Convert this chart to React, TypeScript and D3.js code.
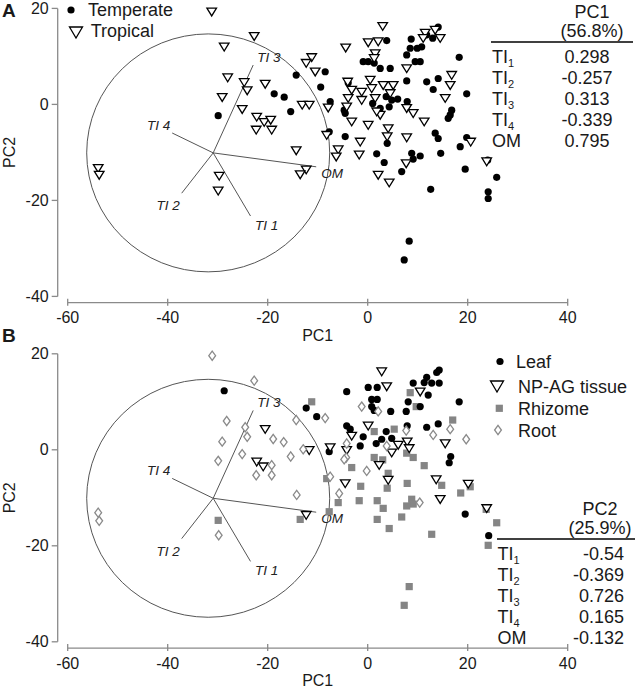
import React from "react";
import * as d3 from "d3";

// ---------------- DATA ----------------
const X_TICKS = [-60, -40, -20, 0, 20, 40];
const Y_TICKS = [-40, -20, 0, 20];

// Panel A: climate groups [PC1, PC2]
const A_TEMPERATE: [number, number][] = [
  [-14.3, 6.1], [-18.7, 2.2], [-16.7, 1.5], [-15.4, -1.5], [-29.9, -2.35], [-9.4, 3.6], [-8.5, 6.8],
  [14.1, 16.1], [13, 13.8], [11.8, 14.5], [8.7, 13.6], [8.5, 11.7], [9.9, 11.7], [10.8, 12.0], [7.8, 10.3],
  [9.5, 8.9], [10.5, 8.9], [3.8, 13.3], [-0.9, 8.9], [0.1, 8.9], [1.3, 8.6], [2.5, 7.5], [4.5, 7.5],
  [18.3, 9.8], [-7.5, 0.6], [-3.9, 4.5], [7.8, 4.9], [11.8, 4.7], [13.1, 3.1], [14.1, 5.4], [19.8, 2.2],
  [3.7, 1.6], [4.8, 0.9], [6, 1.1], [7.9, 0.6], [-4.7, -1.2], [-4.5, -1.85], [1, 0.2], [2.5, -0.8],
  [4.3, -0.5], [16.8, -1.2], [16.5, -2.2], [16.1, -2.9], [-7.7, -5.7], [-4.5, -6.7], [13.5, -6],
  [14.1, -7.1], [3.9, -8.1], [19.8, -6.9], [18.5, -8.8], [14.6, -10.2], [1.8, -10.3], [3.3, -12.1],
  [8.8, -10.2], [9.1, -11.4], [10.5, -10.75], [6.8, -14], [19.5, -13.5], [24, -11.6], [25.8, -15.2],
  [12.6, -17.7], [24.1, -18.2], [24.1, -19.6], [8.3, -28.5], [7.3, -32.4],
];
const A_TROPICAL: [number, number][] = [
  [-31.2, 19.3], [-22.7, 14.2], [-28.7, 12.0], [-28, 5.6], [-24.7, 4.6], [-24.1, 2.9], [-20.5, 4.25],
  [-29.1, 1.5], [-25.1, -1.0], [-22.2, -2.6], [-20.7, -3.7], [-19.4, -3.25], [-22.3, -5.3], [-19.2, -5.3],
  [-13.1, -0.1], [-11.7, -0.1], [-14.3, -9.6], [-53.9, -13.3], [-53.7, -14.7], [-29.7, -14.9], [-29.9, -18],
  [-12.3, -13.6], [-13.5, -14.6], [-11.2, 9.8], [-12.3, 8.6], [-10.5, 6.8],
  [3.0, 16.3], [-4.4, 11.8], [0.1, 12.9], [2.1, 13.1], [1.5, 10.6], [1.3, 9.6], [11.5, 14.9], [13.5, 15.5],
  [11.1, 13.8], [14.5, 13.8], [7.8, 7.5], [-4, 4.7], [-3.2, 3.0], [-1.2, 2.6], [0.5, 5.1], [0.8, 3.35],
  [3.1, 4.0], [5.1, 4.0], [4.5, 2.3], [16.8, 6.1], [16.5, 4.0], [15.5, 1.3], [1.5, 1.3], [-3.9, 1.3],
  [-1.2, 0.9], [-4.2, -0.5], [-3.2, -3.6], [0.1, -4.3], [2.5, -2.2], [1.8, -1.5], [7.8, -0.8], [9.1, -1.85],
  [11.3, -3.6], [4.1, -5.0], [3.9, -6.7], [-1.5, -7.8], [7.8, -6.9], [-1.7, -10.5], [-7.9, -0.7],
  [-8.2, -6.4], [-5.9, -9.4], [-6.3, -10.9], [20.6, -7.8], [23.8, -11.9], [2.1, -14.7], [4.3, -16.3],
  [7.7, -12.3],
];

// Panel B: tissue groups [PC1, PC2]
const B_LEAF: [number, number][] = [
  [13.8, 16.1], [14.3, 16.6], [11.8, 15.1], [11.3, 14.0], [12.8, 13.9], [14.3, 13.9], [9.1, 13.9],
  [0.1, 13.0], [1.9, 13.0], [-4.2, 12.1], [12.1, 11.4], [0.8, 10.5], [1.9, 10.5], [8.1, 10.0],
  [18.3, 10.0], [10.5, 9.0], [0.8, 9.0], [1.3, 8.2], [4.6, 8.0], [7.7, 8.0], [-12.3, 8.7], [-10.2, 6.9],
  [14.1, 5.4], [11.8, 4.7], [7.9, 5.0], [-4.2, 5.0], [-3.5, 4.3], [3.7, 3.8], [4.8, 2.4], [2.8, 2.2],
  [-0.9, 2.7], [-1.5, 0.8], [1.7, 1.3], [-7.7, -0.4], [16.6, -1.4], [16.3, -2.7], [19.5, -13.4],
  [24.2, -17.9], [-28.7, 12.3],
];
const B_NPAG: [number, number][] = [
  [2.8, 16.3], [3.8, 13.2], [10.5, 12.1], [0.1, 5.0], [-3.2, 2.9], [6.1, 1.0], [7.9, 1.7], [8.3, 0.3],
  [4.8, -0.6], [15.5, 1.3], [-11.7, -0.1], [-7.5, 0.5], [-4.2, -0.1], [2.3, -3.2], [4.1, -6.3],
  [13.7, -6.2], [-4.5, -7.0], [20.1, -7.1], [14.5, -10.3], [23.8, -12.2], [-12.3, -13.6], [-20.5, 4.3],
  [-22.2, -2.5], [-20.9, -3.5],
];
const B_RHIZOME: [number, number][] = [
  [-11.2, 10.0], [8.5, 11.9], [9.7, 9.0], [17.0, 6.2], [1.3, 3.8], [5.3, 4.3], [7.8, -0.7], [9.1, -1.6],
  [1.3, -1.6], [3.0, -2.1], [-3.2, -3.7], [11.3, -3.3], [-8.2, -6.0], [4.1, -4.9], [7.9, -7.0],
  [-1.4, -7.6], [3.9, -8.0], [14.8, -7.4], [20.5, -7.7], [18.6, -9.0], [-5.9, -11.0], [-1.7, -10.6],
  [1.9, -10.6], [3.1, -12.2], [8.8, -10.3], [9.1, -11.3], [7.8, -11.7], [1.9, -14.5], [6.8, -14.0],
  [4.3, -16.4], [23.7, -12.4], [25.8, -15.2], [12.8, -17.6], [-7.7, -12.9], [-29.9, -14.7],
  [-13.5, -14.5], [24.1, -19.9], [8.3, -28.5], [7.3, -32.4],
];
const B_ROOT: [number, number][] = [
  [-1.2, 9.0], [2.1, 8.0], [-8.5, 6.6], [16.5, 4.3], [13.1, 3.1], [19.7, 2.2], [7.7, 4.0], [-4.2, 1.3],
  [3.8, 0.8], [-12.9, 0.1], [-4.3, -1.6], [-4.7, -2.0], [-0.2, -4.4], [-7.5, -5.6], [-5.7, -9.1],
  [10.4, -11.0], [-31.1, 19.6], [-22.7, 14.4], [-28.2, 6.0], [-24.5, 4.7], [-24.1, 2.7], [-29.1, 1.7],
  [-29.9, -2.3], [-25.1, -0.9], [-18.9, 2.25], [-16.8, 1.6], [-15.4, -1.4], [-14.3, 6.2], [-19.2, -3.2],
  [-19.2, -5.3], [-22.3, -5.3], [-14.2, -9.4], [-53.9, -13.1], [-53.7, -14.8], [-29.8, -17.8],
];

// Biplot loading vectors (origin + endpoints, in PC units)
const LOADING_ORIGIN: [number, number] = [-30.9, -10.1];
const LOADING_NAMES = ["TI 1", "TI 2", "TI 3", "TI 4", "OM"];
const LOADING_X = [-23.44, -37.2, -22.9, -39.1, -10.3];
const LOADING_Y = [-23.25, -18.5, 8.2, -5.96, -13.0];
const CIRCLE_CENTER: [number, number] = [-31.9, -10.1];
const CIRCLE_RADIUS = 24.3;

// Tables
const ROW_LABELS = ["TI", "TI", "TI", "TI", "OM"];
const ROW_SUBS = ["1", "2", "3", "4", ""];
const PC1_VALUES = ["0.298", "-0.257", "0.313", "-0.339", "0.795"];
const PC2_VALUES = ["-0.54", "-0.369", "0.726", "0.165", "-0.132"];

const LEGEND_A = ["Temperate", "Tropical"];
const LEGEND_B = ["Leaf", "NP-AG tissue", "Rhizome", "Root"];

// ---------------- STYLE / LAYOUT ----------------
const FONT = "'Liberation Sans', Arial, Helvetica, sans-serif";
const AXIS_COLOR = "#8a8a8a";
const TEXT_COLOR = "#1a1a1a";
const LINE_COLOR = "#555";
const PANEL_B_DY = 345.4;
const LABEL_OFFSETS: Record<string, { dx: number; dy: number; anchor: string }> = {
  "TI 1": { dx: 4.5, dy: 14, anchor: "start" },
  "TI 2": { dx: -2, dy: 17, anchor: "end" },
  "TI 3": { dx: 4, dy: -3, anchor: "start" },
  "TI 4": { dx: -2, dy: -3, anchor: "end" },
  OM: { dx: 5, dy: 11, anchor: "start" },
};

const x = d3.scaleLinear().domain([-60, 40]).range([67.7, 567.7]);
const y = d3.scaleLinear().domain([-40, 20]).range([296.4, 8.4]);

const TRI = "M-4.8,-3.6L4.8,-3.6L0,4.2Z";
const TRI_BIG = "M-6.5,-5L6.5,-5L0,6Z";
const DIAMOND = "M0,-4.6L3.4,0L0,4.6L-3.4,0Z";

const Circle = ({ cx, cy }: { cx: number; cy: number }) => <circle cx={cx} cy={cy} r={3.6} fill="#000" />;
const Tri = ({ cx, cy, big }: { cx: number; cy: number; big?: boolean }) => (
  <path d={big ? TRI_BIG : TRI} transform={`translate(${cx},${cy})`} fill="#fff" stroke="#000" strokeWidth={1.3} />
);
const Square = ({ cx, cy }: { cx: number; cy: number }) => (
  <rect x={cx - 3.6} y={cy - 3.6} width={7.2} height={7.2} fill="#858585" />
);
const Diamond = ({ cx, cy }: { cx: number; cy: number }) => (
  <path d={DIAMOND} transform={`translate(${cx},${cy})`} fill="#fff" stroke="#8a8a8a" strokeWidth={1.3} />
);

function Axes() {
  const x0 = 57.7;
  const axY = 302.7;
  return (
    <g fontFamily={FONT}>
      <line x1={x0} x2={x0} y1={y(20)} y2={y(-40)} stroke={AXIS_COLOR} strokeWidth={1.3} />
      {Y_TICKS.map((t) => (
        <g key={t}>
          <line x1={x0 - 6} x2={x0} y1={y(t)} y2={y(t)} stroke={AXIS_COLOR} strokeWidth={1.3} />
          <text x={x0 - 9} y={y(t)} dy="0.35em" textAnchor="end" fontSize={16} fill={TEXT_COLOR}>
            {t}
          </text>
        </g>
      ))}
      <line x1={x(-60)} x2={x(40)} y1={axY} y2={axY} stroke={AXIS_COLOR} strokeWidth={1.3} />
      {X_TICKS.map((t) => (
        <g key={t}>
          <line x1={x(t)} x2={x(t)} y1={axY - 4} y2={axY + 3} stroke={AXIS_COLOR} strokeWidth={1.3} />
          <text x={x(t)} y={axY + 20.5} textAnchor="middle" fontSize={16} fill={TEXT_COLOR}>
            {t}
          </text>
        </g>
      ))}
      <text x={(x(-60) + x(40)) / 2} y={341} textAnchor="middle" fontSize={16} fill={TEXT_COLOR}>
        PC1
      </text>
      <text transform={`translate(15,${(y(20) + y(-40)) / 2}) rotate(-90)`} textAnchor="middle" fontSize={16} fill={TEXT_COLOR}>
        PC2
      </text>
    </g>
  );
}

function Biplot() {
  const ox = x(LOADING_ORIGIN[0]);
  const oy = y(LOADING_ORIGIN[1]);
  const rx = x(CIRCLE_CENTER[0] + CIRCLE_RADIUS) - x(CIRCLE_CENTER[0]);
  const ry = y(CIRCLE_CENTER[1]) - y(CIRCLE_CENTER[1] + CIRCLE_RADIUS * 1.02);
  return (
    <g>
      <ellipse cx={x(CIRCLE_CENTER[0])} cy={y(CIRCLE_CENTER[1])} rx={rx} ry={ry} fill="none" stroke={LINE_COLOR} strokeWidth={1} />
      {LOADING_NAMES.map((n, i) => {
        const ex = x(LOADING_X[i]);
        const ey = y(LOADING_Y[i]);
        const o = LABEL_OFFSETS[n];
        return (
          <g key={n}>
            <line x1={ox} y1={oy} x2={ex} y2={ey} stroke={LINE_COLOR} strokeWidth={1} />
            <text x={ex + o.dx} y={ey + o.dy} textAnchor={o.anchor as any} fontSize={13.5} fontStyle="italic" fontFamily={FONT} fill="#222">
              {n}
            </text>
          </g>
        );
      })}
    </g>
  );
}

function Table({ top, title, pct, values, valueX, anchor, lineX1, lineX2, labelX, titleX }: any) {
  return (
    <g fontFamily={FONT} fontSize={18} fill={TEXT_COLOR}>
      <text x={titleX} y={top + 18} textAnchor="middle">{title}</text>
      <text x={titleX} y={top + 37} textAnchor="middle">{pct}</text>
      <line x1={lineX1} x2={lineX2} y1={top + 42} y2={top + 42} stroke="#000" strokeWidth={1.5} />
      {ROW_LABELS.map((l, i) => (
        <g key={i}>
          <text x={labelX} y={top + 63 + i * 20.9}>
            {l}
            {ROW_SUBS[i] && (
              <tspan fontSize={11} dy={4}>
                {ROW_SUBS[i]}
              </tspan>
            )}
          </text>
          <text x={valueX} y={top + 63 + i * 20.9} textAnchor={anchor}>
            {values[i]}
          </text>
        </g>
      ))}
    </g>
  );
}

export default function App() {
  return (
    <svg width={640} height={691} viewBox="0 0 640 691" style={{ position: "absolute", left: 0, top: 0, background: "#fff" }}>
      <rect width={640} height={691} fill="#fff" />
      {/* Panel A */}
      <g>
        <Axes />
        <Biplot />
        {A_TEMPERATE.map((d, i) => <Circle key={"t" + i} cx={x(d[0])} cy={y(d[1])} />)}
        {A_TROPICAL.map((d, i) => <Tri key={"p" + i} cx={x(d[0])} cy={y(d[1])} />)}
        <text x={2} y={17} fontFamily={FONT} fontWeight="bold" fontSize={19} fill={TEXT_COLOR}>A</text>
        <g fontFamily={FONT} fontSize={18} fill={TEXT_COLOR}>
          <Circle cx={71} cy={10} />
          <text x={88} y={16}>{LEGEND_A[0]}</text>
          <Tri cx={76} cy={32} big />
          <text x={90.7} y={37}>{LEGEND_A[1]}</text>
        </g>
        <Table top={0} title="PC1" pct="(56.8%)" values={PC1_VALUES} valueX={587} anchor="middle"
          lineX1={491} lineX2={633} labelX={492} titleX={592} />
      </g>
      {/* Panel B */}
      <g transform={`translate(0,${PANEL_B_DY})`}>
        <Axes />
        <Biplot />
        {B_RHIZOME.map((d, i) => <Square key={"r" + i} cx={x(d[0])} cy={y(d[1])} />)}
        {B_LEAF.map((d, i) => <Circle key={"l" + i} cx={x(d[0])} cy={y(d[1])} />)}
        {B_NPAG.map((d, i) => <Tri key={"n" + i} cx={x(d[0])} cy={y(d[1])} />)}
        {B_ROOT.map((d, i) => <Diamond key={"o" + i} cx={x(d[0])} cy={y(d[1])} />)}
        <text x={2} y={-3} fontFamily={FONT} fontWeight="bold" fontSize={19} fill={TEXT_COLOR}>B</text>
      </g>
      <g fontFamily={FONT} fontSize={18} fill={TEXT_COLOR}>
        <Circle cx={500} cy={361.5} />
        <text x={516} y={368}>{LEGEND_B[0]}</text>
        <Tri cx={497} cy={386} big />
        <text x={518} y={393}>{LEGEND_B[1]}</text>
        <Square cx={499.3} cy={408.3} />
        <text x={518} y={415}>{LEGEND_B[2]}</text>
        <Diamond cx={498} cy={430} />
        <text x={518} y={437}>{LEGEND_B[3]}</text>
      </g>
      <Table top={497} title="PC2" pct="(25.9%)" values={PC2_VALUES} valueX={624} anchor="end"
        lineX1={497} lineX2={635} labelX={497.5} titleX={600} />
    </svg>
  );
}
